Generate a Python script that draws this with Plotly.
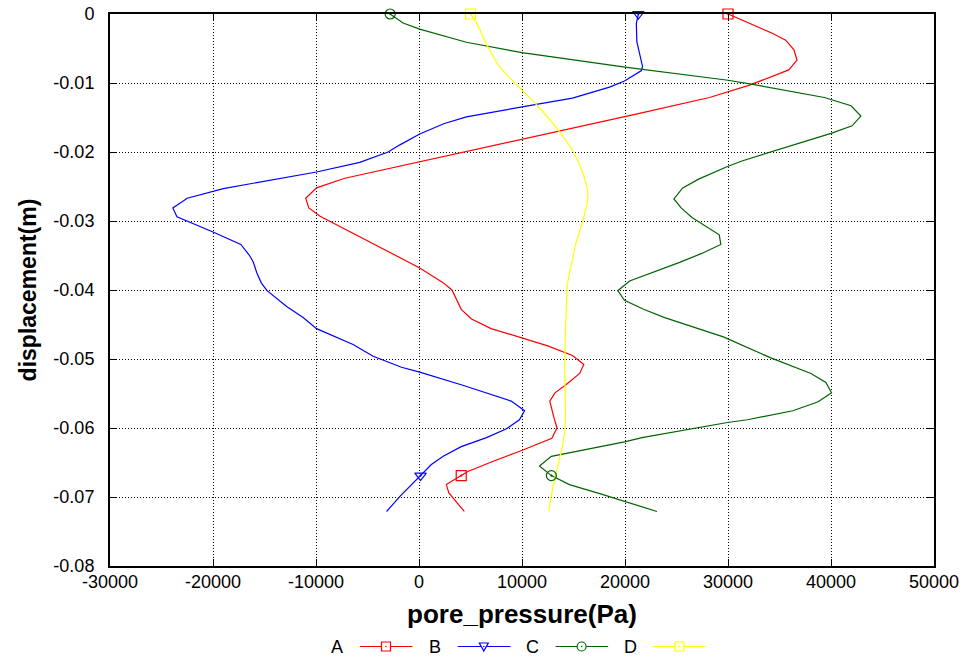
import plotly.graph_objects as go

# ---------------- data ----------------
A_x = [30000, 34300, 35600, 36400, 36700, 35900, 32100, 28200, 21400, -1900,
       -7200, -9950, -11000, -10700, -9600, 70, 2300, 3200, 4100, 5100,
       7000, 9900, 12500, 14900, 16000, 15600, 14300, 13200, 12700, 13100,
       13400, 12900, 11100, 9900, 6900, 4750, 4100, 2650, 2900, 3600, 4400]
A_y = [0, -0.0028, -0.0038, -0.0052, -0.0067, -0.0081, -0.0103, -0.0121, -0.0144, -0.0220,
       -0.0238, -0.0252, -0.0267, -0.0281, -0.0293, -0.0368, -0.0389, -0.0400, -0.0428, -0.0442,
       -0.0456, -0.0469, -0.0481, -0.0495, -0.0508, -0.0521, -0.0537, -0.0549, -0.0561, -0.0585,
       -0.0600, -0.0615, -0.0626, -0.0633, -0.0650, -0.0663, -0.0669, -0.0682, -0.0694, -0.0706, -0.0721]

B_x = [21300, 21100, 21150, 21450, 21700, 21600, 20750, 19950, 18500, 14900,
       11400, 7800, 4600, 2400, 70, -1900, -3000, -5750, -9950, -19000,
       -22500, -23900, -23500, -20000, -17300, -16500, -16100, -15750, -15300, -14750,
       -12850, -11250, -9950, -6400, -4450, -1700, 70, 4250, 8950, 10250,
       9750, 8500, 6550, 4100, 2350, 1200, 150, -900, -1850, -3150]
B_y = [0, -0.00135, -0.0040, -0.0059, -0.0076, -0.0082, -0.0090, -0.0097, -0.0106, -0.0122,
       -0.0131, -0.0140, -0.0149, -0.0159, -0.0174, -0.0190, -0.0200, -0.0215, -0.0229, -0.0253,
       -0.0267, -0.0281, -0.0294, -0.0316, -0.0334, -0.0349, -0.0359, -0.0375, -0.0390, -0.0401,
       -0.0424, -0.0440, -0.0456, -0.0479, -0.0496, -0.0512, -0.0519, -0.0538, -0.0561, -0.0575,
       -0.0588, -0.0601, -0.0614, -0.0627, -0.0641, -0.0653, -0.0669, -0.0684, -0.0699, -0.0721]

C_x = [-2800, -1550, 70, 4600, 10000, 20000, 30000, 32400, 39350, 41950,
       42900, 42050, 40000, 31350, 29950, 27200, 25600, 24750, 25450, 26500,
       29150, 29300, 27450, 25300, 20450, 19300, 19950, 21800, 23850, 29550,
       34100, 38050, 39500, 40050, 38750, 36300, 31900, 29950, 21650, 19950,
       12850, 11700, 12850, 14600, 17550, 19950, 23100]
C_y = [0, -0.0013, -0.0022, -0.0041, -0.0056, -0.0077, -0.0096, -0.0102, -0.0121, -0.0133,
       -0.0148, -0.0162, -0.0173, -0.0213, -0.0221, -0.0239, -0.0252, -0.0268, -0.0281, -0.0295,
       -0.0320, -0.0334, -0.0347, -0.0360, -0.0387, -0.0401, -0.0415, -0.0428, -0.0440, -0.0468,
       -0.0498, -0.0521, -0.0534, -0.0549, -0.0562, -0.0575, -0.0588, -0.0592, -0.0614, -0.0620,
       -0.0641, -0.0655, -0.0669, -0.0682, -0.0695, -0.0706, -0.0721]

D_x = [5000, 5500, 6000, 6600, 7800, 9850, 11500, 13550, 14950, 15900,
       16400, 16300, 15800, 15200, 14800, 14400, 14300, 14200, 14150, 14200,
       14200, 13950, 13400, 12950, 12600]
D_y = [0, -0.0011, -0.0026, -0.0045, -0.0076, -0.0108, -0.0133, -0.0169, -0.0199, -0.0230,
       -0.0259, -0.0276, -0.0305, -0.0334, -0.0363, -0.0392, -0.0428, -0.0472, -0.0515, -0.0559,
       -0.0595, -0.0624, -0.0660, -0.0689, -0.0721]

# indices of the points that carry a marker
A_marks = [0, 36]
B_marks = [0, 46]
C_marks = [0, 42]
D_marks = [0]

series_names = ["A", "B", "C", "D"]

x_tick_vals = [-30000, -20000, -10000, 0, 10000, 20000, 30000, 40000, 50000]
x_tick_text = ["-30000", "-20000", "-10000", "0", "10000", "20000", "30000", "40000", "50000"]
y_tick_vals = [0, -0.01, -0.02, -0.03, -0.04, -0.05, -0.06, -0.07, -0.08]
y_tick_text = ["0", "-0.01", "-0.02", "-0.03", "-0.04", "-0.05", "-0.06", "-0.07", "-0.08"]

x_title = "pore_pressure(Pa)"
y_title = "displacement(m)"

# ---------------- styling ----------------
colors = ["#ff0000", "#0000ff", "#006400", "#ffff00"]
symbols = ["square-open-dot", "triangle-down-open-dot", "circle-open-dot", "square-open-dot"]
shapes_spline = [False, False, False, True]

FONT = "Liberation Sans, Arial, Helvetica, sans-serif"
W, H = 966, 657
ML, MR, MT, MB = 110, 32, 14, 91
PW, PH = W - ML - MR, H - MT - MB

fig = go.Figure()

data = [(A_x, A_y, A_marks), (B_x, B_y, B_marks), (C_x, C_y, C_marks), (D_x, D_y, D_marks)]
for i, (xs, ys, marks) in enumerate(data):
    fig.add_trace(go.Scatter(
        x=xs, y=ys, mode="lines", name=series_names[i], showlegend=False,
        line=dict(color=colors[i], width=1.2,
                  shape="spline" if shapes_spline[i] else "linear", smoothing=0.6),
        hoverinfo="skip"))
for i, (xs, ys, marks) in enumerate(data):
    fig.add_trace(go.Scatter(
        x=[xs[k] for k in marks], y=[ys[k] for k in marks], mode="markers",
        showlegend=False, cliponaxis=False,
        marker=dict(symbol=symbols[i], size=10, color=colors[i],
                    line=dict(color=colors[i], width=1.2)),
        hoverinfo="skip"))

# ---------------- manual legend (text left of sample, gnuplot style) ----------------
def px_to_paper_x(px):
    return (px - ML) / PW

def py_to_paper_y(py):
    return (MT + PH - py) / PH

shapes = []
annotations = []
leg_y = py_to_paper_y(646.5)
for i, name in enumerate(series_names):
    off = 97.8 * i
    annotations.append(dict(
        x=px_to_paper_x(337 + off), y=leg_y, xref="paper", yref="paper",
        text=name, showarrow=False, xanchor="center", yanchor="middle",
        font=dict(family=FONT, size=18, color="black")))
    shapes.append(dict(
        type="line", xref="paper", yref="paper",
        x0=px_to_paper_x(360 + off), x1=px_to_paper_x(412.5 + off), y0=leg_y, y1=leg_y,
        line=dict(color=colors[i], width=1.2)))
    cx = px_to_paper_x(386 + off)
    common = dict(xref="paper", yref="paper", xsizemode="pixel", ysizemode="pixel",
                  xanchor=cx, yanchor=leg_y, line=dict(color=colors[i], width=1.2))
    if i == 1:
        shapes.append(dict(type="path", path="M-4.5,3.5 L4.5,3.5 L0,-4.5 Z",
                           fillcolor="white", **common))
    elif i == 2:
        shapes.append(dict(type="circle", x0=-4.5, x1=4.5, y0=-4.5, y1=4.5,
                           fillcolor="white", **common))
    else:
        shapes.append(dict(type="rect", x0=-4.5, x1=4.5, y0=-4.5, y1=4.5,
                           fillcolor="white", **common))
    dot = dict(common)
    dot["line"] = dict(color=colors[i], width=0)
    shapes.append(dict(type="circle", x0=-0.8, x1=0.8, y0=-0.8, y1=0.8,
                       fillcolor=colors[i], **dot))

axis_common = dict(
    showline=True, linecolor="black", linewidth=2, mirror="allticks",
    ticks="inside", ticklen=7, tickwidth=1, tickcolor="black",
    showgrid=True, gridcolor="black", gridwidth=1, griddash="1px,2px",
    zeroline=False, automargin=False,
    tickfont=dict(family=FONT, size=18, color="black"),
)

fig.update_layout(
    width=W, height=H,
    margin=dict(l=ML, r=MR, t=MT, b=MB, autoexpand=False),
    paper_bgcolor="white", plot_bgcolor="white",
    showlegend=False,
    xaxis=dict(range=[-30000, 50000], tickvals=x_tick_vals, ticktext=x_tick_text,
               ticklabelstandoff=-2,
               title=dict(text=x_title, font=dict(family=FONT, size=26, color="black", weight="bold"),
                          standoff=14),
               **axis_common),
    yaxis=dict(range=[-0.08, 0], tickvals=y_tick_vals, ticktext=y_tick_text,
               ticklabelstandoff=10,
               title=dict(text=y_title, font=dict(family=FONT, size=23, color="black", weight="bold"),
                          standoff=10),
               **axis_common),
    shapes=shapes, annotations=annotations,
)

fig.write_html("out.html", config={"displayModeBar": False},
               post_script="document.body.style.margin='0px';document.body.style.overflow='hidden';")
